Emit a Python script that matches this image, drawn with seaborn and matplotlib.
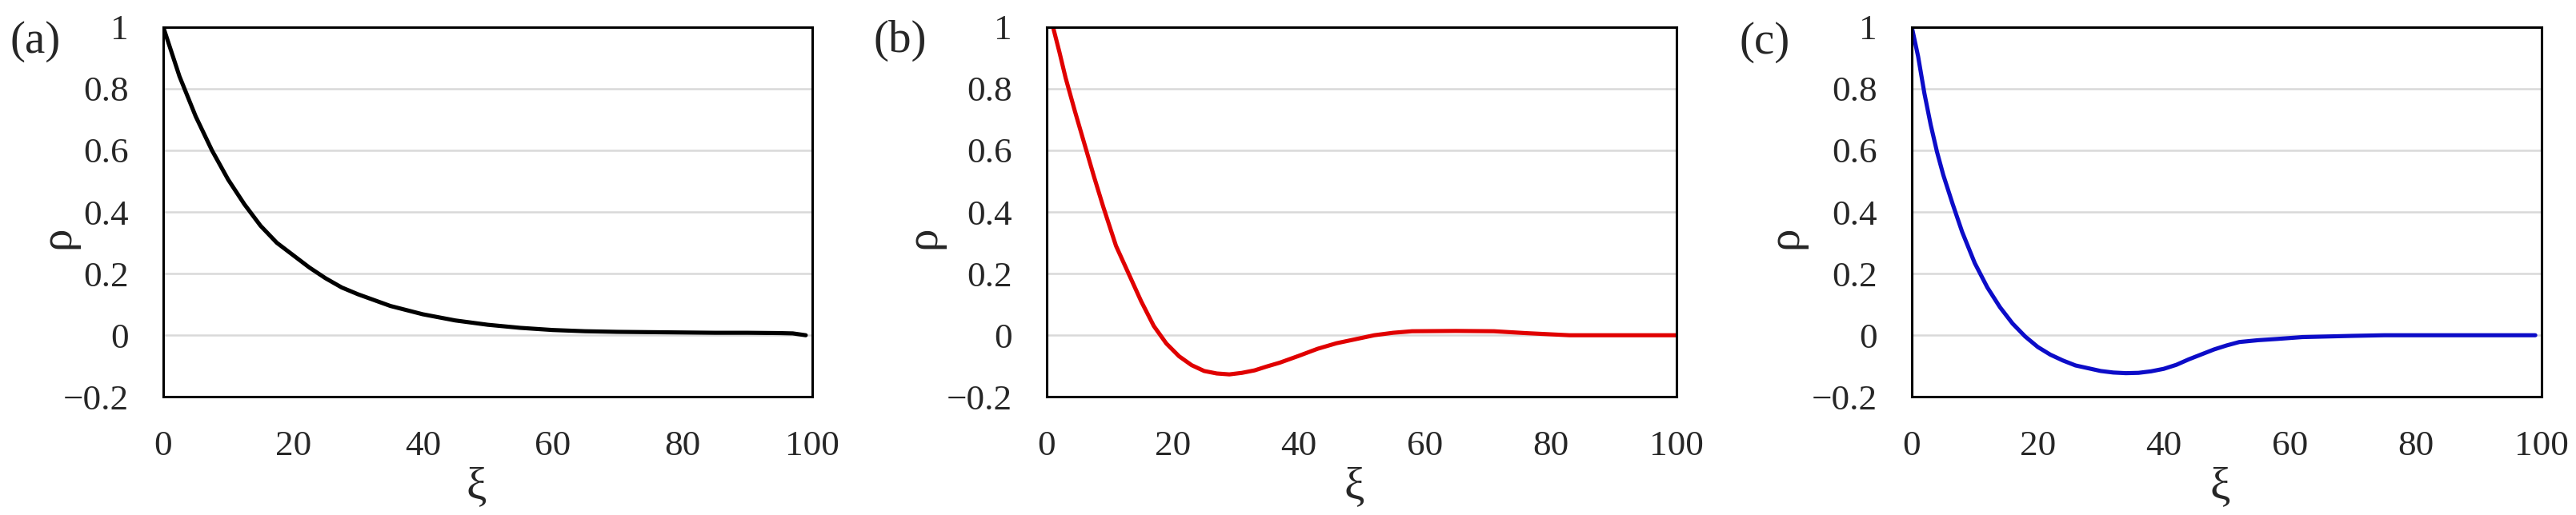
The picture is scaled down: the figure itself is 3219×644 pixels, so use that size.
import matplotlib
matplotlib.use("Agg")
import matplotlib.pyplot as plt
import seaborn as sns
import pandas as pd

# values
xi_a = [0, 2.5, 5, 7.5, 10, 12.5, 15, 17.5, 20, 22.5, 25, 27.5, 30, 35, 40, 45,
        50, 55, 60, 65, 70, 75, 80, 85, 90, 95, 97, 99]
rho_a = [1.0, 0.84, 0.71, 0.60, 0.505, 0.425, 0.355, 0.30, 0.26, 0.22, 0.185, 0.155,
         0.133, 0.095, 0.068, 0.048, 0.034, 0.024, 0.017, 0.013, 0.011, 0.01, 0.009,
         0.008, 0.008, 0.007, 0.006, 0.0]

xi_b = [1, 2, 3, 4.5, 6, 7.5, 9, 11, 13, 15, 17, 19, 21, 23, 25, 27, 29, 31, 33, 35,
        37, 40, 43, 46, 49, 52, 55, 58, 65, 71, 76, 83, 90, 100]
rho_b = [1.0, 0.92, 0.835, 0.725, 0.62, 0.515, 0.415, 0.29, 0.2, 0.11, 0.03, -0.027,
         -0.068, -0.097, -0.116, -0.124, -0.127, -0.122, -0.114, -0.101, -0.089,
         -0.067, -0.044, -0.026, -0.013, 0.0, 0.008, 0.013, 0.014, 0.013, 0.007,
         0.0, 0.0, 0.0]

xi_c = [0, 1, 2, 3, 4, 5, 6.5, 8, 10, 12, 14, 16, 18, 20, 22, 24, 26, 28, 30, 32, 34,
        36, 38, 40, 42, 44, 46, 48, 50, 52, 55, 58, 62, 66, 70, 75, 80, 90, 99]
rho_c = [1.0, 0.905, 0.785, 0.683, 0.595, 0.52, 0.425, 0.335, 0.234, 0.155, 0.091,
         0.038, -0.004, -0.038, -0.063, -0.082, -0.098, -0.107, -0.116, -0.121,
         -0.123, -0.122, -0.117, -0.109, -0.096, -0.078, -0.062, -0.046, -0.033,
         -0.022, -0.016, -0.012, -0.006, -0.004, -0.002, 0.0, 0.0, 0.0, 0.0]

xticks = [0, 20, 40, 60, 80, 100]
xtick_labels = ["0", "20", "40", "60", "80", "100"]
yticks = [-0.2, 0, 0.2, 0.4, 0.6, 0.8, 1.0]
ytick_labels = ["\u22120.2", "0", "0.2", "0.4", "0.6", "0.8", "1"]
panel_names = ["(a)", "(b)", "(c)"]
colors = ["#000000", "#e00000", "#0c0cc8"]

sns.set_style("white")
plt.rcParams['font.family'] = ['Liberation Serif', 'DejaVu Serif']

W, H = 3219, 644
fig = plt.figure(figsize=(W / 100, H / 100), dpi=100)

# axes boxes in pixels: left, width
boxes = [(204, 811), (1308, 787), (2389, 787)]
top_px, bot_px = 33.8, 496.3
# label spots in pixels
panel_pos = [(44, 52), (1125, 51), (2205, 53)]
rho_x = [72, 1154, 2231]
xi_x = [0.482, 0.488, 0.489]

data = [(xi_a, rho_a), (xi_b, rho_b), (xi_c, rho_c)]

for i, (x, y) in enumerate(data):
    left, width = boxes[i]
    ax = fig.add_axes([left / W, (H - bot_px) / H, width / W, (bot_px - top_px) / H])
    df = pd.DataFrame({"xi": x, "rho": y})
    sns.lineplot(data=df, x="xi", y="rho", ax=ax, color=colors[i], linewidth=3.7,
                 estimator=None, sort=False)
    ax.set_xlim(0, 100)
    ax.set_ylim(-0.2, 1.0)
    ax.set_xticks(xticks)
    ax.set_xticklabels(xtick_labels)
    ax.set_yticks(yticks)
    ax.set_yticklabels(ytick_labels)
    ax.yaxis.grid(True, color="#d9d9d9", linewidth=1.8)
    ax.xaxis.grid(False)
    ax.set_axisbelow(True)
    for s in ax.spines.values():
        s.set_color("black")
        s.set_linewidth(2.2)
    ax.tick_params(axis="both", direction="in", length=10.8, width=2.2,
                   labelsize=32.5, color="black")
    ax.tick_params(axis="y", pad=31)
    ax.tick_params(axis="x", pad=30)

    ax.set_ylabel("\u03c1", fontsize=41)
    ax.yaxis.label.set_va("center")
    ax.yaxis.label.set_ha("center")
    ax.yaxis.set_label_coords((rho_x[i] - left) / width, (bot_px - 297) / (bot_px - top_px))
    ax.set_xlabel("\u03be", fontsize=41)
    ax.xaxis.label.set_va("center")
    ax.xaxis.set_label_coords(xi_x[i], (bot_px - 609) / (bot_px - top_px))

    px, py = panel_pos[i]
    fig.text(px / W, 1 - py / H, panel_names[i], fontsize=41, ha="center", va="center")

fig.savefig("out.png", dpi=100)
